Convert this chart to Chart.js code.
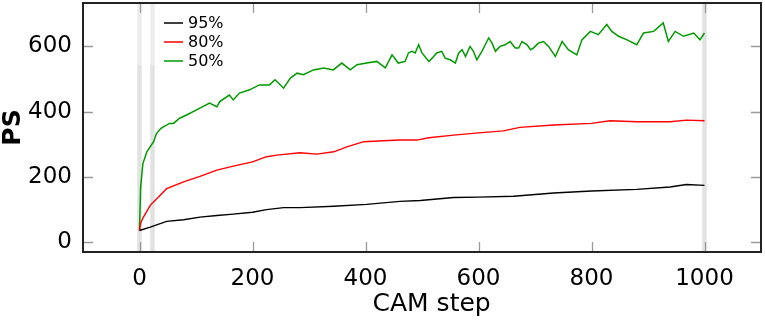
<!DOCTYPE html>
<html>
<head>
<meta charset="utf-8">
<script src="https://cdn.jsdelivr.net/npm/chart.js@4.4.1/dist/chart.umd.min.js"></script>
<style>
  html, body { margin: 0; padding: 0; background: #fff; }
  #wrap { width: 765px; height: 325px; }
</style>
</head>
<body>
<div id="wrap"><canvas id="chart"></canvas></div>
<script>
// values
const seriesLabels = ['95%', '80%', '50%'];
const xTitle = 'CAM step';
const yTitle = 'PS';

const blackSteps = [0, 19, 48, 78, 107, 137, 166, 200, 225, 255, 284, 344, 402, 461, 497, 556, 600, 662, 733, 800, 880, 939, 968, 1000];
const blackPS = [36, 46, 64, 69, 77, 82, 86, 92, 100, 106, 106, 110, 116, 125, 128, 137, 138, 141, 151, 157, 162, 169, 177, 174];

const redSteps = [0, 2, 7, 19, 48, 78, 107, 137, 166, 200, 225, 243, 284, 314, 344, 367, 397, 432, 461, 491, 512, 556, 600, 644, 673, 733, 800, 833, 880, 939, 968, 1000];
const redPS = [36, 58, 77, 113, 164, 185, 202, 221, 233, 246, 262, 267, 274, 270, 277, 292, 308, 311, 313, 313, 320, 328, 335, 341, 352, 359, 364, 372, 369, 369, 374, 372];

const greenSteps = [0, 2, 6, 13, 25, 30, 38, 53, 60, 71, 86, 106, 124, 137, 142, 159, 166, 177, 195, 212, 230, 240, 255, 267, 279, 290, 308, 326, 343, 358, 373, 385, 402, 420, 435, 447, 458, 470, 476, 482, 488, 494, 500, 512, 518, 526, 535, 541, 550, 559, 565, 571, 577, 585, 591, 597, 606, 612, 618, 624, 630, 638, 647, 656, 665, 671, 677, 686, 692, 697, 706, 715, 724, 736, 748, 759, 774, 783, 798, 812, 827, 836, 848, 863, 880, 892, 910, 927, 936, 948, 963, 981, 992, 1000];
const greenPS = [36, 169, 241, 277, 308, 333, 349, 364, 364, 380, 392, 410, 426, 415, 431, 451, 436, 457, 467, 482, 482, 498, 472, 503, 518, 513, 528, 534, 528, 549, 528, 544, 549, 554, 534, 574, 549, 554, 580, 585, 580, 605, 580, 554, 564, 580, 585, 564, 559, 549, 580, 590, 569, 600, 585, 559, 585, 605, 626, 610, 585, 600, 605, 615, 595, 595, 615, 605, 590, 595, 610, 615, 600, 569, 615, 590, 574, 620, 646, 636, 667, 646, 631, 620, 605, 641, 646, 672, 615, 646, 631, 641, 620, 641];

const xTicks = [0, 200, 400, 600, 800, 1000];
const yTicks = [0, 200, 400, 600];

// gray vertical markers (CAM step positions)
const bandSteps = [0, 23, 1000];

const FONT = "'DejaVu Sans', Verdana, sans-serif";

function toPoints(xs, ys) {
    return xs.map((x, i) => ({ x: x, y: ys[i] }));
}

// gray bands behind the curves
const bandPlugin = {
    id: 'bands',
    beforeDatasetsDraw(chart) {
        const ctx = chart.ctx;
        const area = chart.chartArea;
        const xs = chart.scales.x;
        ctx.save();
        ctx.fillStyle = '#e2e2e2';
        bandSteps.forEach(s => {
            const l = xs.getPixelForValue(s - 4);
            const r = xs.getPixelForValue(s + 4);
            ctx.fillRect(l, area.top, r - l, area.bottom - area.top);
        });
        // translucent legend frame
        ctx.fillStyle = 'rgba(255,255,255,0.4)';
        ctx.fillRect(area.left, area.top, 150, 62);
        ctx.restore();
    }
};

// legend in the top-left corner of the plot
const legendPlugin = {
    id: 'cornerLegend',
    afterDatasetsDraw(chart) {
        const ctx = chart.ctx;
        const area = chart.chartArea;
        ctx.save();
        ctx.font = '16px ' + FONT;
        ctx.textBaseline = 'middle';
        chart.data.datasets.forEach((ds, i) => {
            const y = area.top + 20 + i * 19;
            ctx.strokeStyle = ds.borderColor;
            ctx.lineWidth = 1.5;
            ctx.beginPath();
            ctx.moveTo(area.left + 81, y);
            ctx.lineTo(area.left + 100, y);
            ctx.stroke();
            ctx.fillStyle = '#000';
            ctx.fillText(ds.label, area.left + 105, y + 1);
        });
        ctx.restore();
    }
};

// inward ticks on all four sides, the frame and the axis titles
const framePlugin = {
    id: 'frame',
    afterDraw(chart) {
        const ctx = chart.ctx;
        const a = chart.chartArea;
        const xs = chart.scales.x;
        const ys = chart.scales.y;
        const len = 10;
        ctx.save();
        ctx.strokeStyle = '#9a9a9a';
        ctx.lineWidth = 1.3;
        ctx.beginPath();
        xTicks.forEach(v => {
            const px = Math.round(xs.getPixelForValue(v)) + 0.5;
            ctx.moveTo(px, a.bottom); ctx.lineTo(px, a.bottom - len);
            ctx.moveTo(px, a.top); ctx.lineTo(px, a.top + len);
        });
        yTicks.forEach(v => {
            const py = Math.round(ys.getPixelForValue(v)) + 0.5;
            ctx.moveTo(a.left, py); ctx.lineTo(a.left + len, py);
            ctx.moveTo(a.right, py); ctx.lineTo(a.right - len, py);
        });
        ctx.stroke();
        ctx.strokeStyle = '#222';
        ctx.lineWidth = 2;
        ctx.strokeRect(a.left, a.top, a.right - a.left, a.bottom - a.top);

        ctx.fillStyle = '#000';
        ctx.textAlign = 'center';
        ctx.textBaseline = 'alphabetic';
        ctx.font = '25px ' + FONT;
        ctx.fillText(xTitle, xs.getPixelForValue(517), 311);

        ctx.translate(13, (a.top + a.bottom) / 2);
        ctx.rotate(-Math.PI / 2);
        ctx.textBaseline = 'middle';
        ctx.font = 'bold 25px ' + FONT;
        ctx.fillText(yTitle, 0, 0);
        ctx.restore();
    }
};

const chart = new Chart(document.getElementById('chart'), {
    type: 'line',
    data: {
        datasets: [
            { label: seriesLabels[0], data: toPoints(blackSteps, blackPS), borderColor: '#000000', borderWidth: 1.4 },
            { label: seriesLabels[1], data: toPoints(redSteps, redPS), borderColor: '#ff0000', borderWidth: 1.4 },
            { label: seriesLabels[2], data: toPoints(greenSteps, greenPS), borderColor: '#009900', borderWidth: 1.5 }
        ]
    },
    options: {
        responsive: true,
        maintainAspectRatio: false,
        animation: false,
        elements: {
            point: { radius: 0 },
            line: { tension: 0, fill: false }
        },
        layout: {
            padding: { top: 3, right: 4, left: 0, bottom: 0 }
        },
        plugins: {
            legend: { display: false },
            tooltip: { enabled: false }
        },
        scales: {
            x: {
                type: 'linear',
                min: -100,
                max: 1100,
                afterBuildTicks: (scale) => { scale.ticks = xTicks.map(v => ({ value: v })); },
                afterFit: (scale) => {
                    scale.height = 73;
                    scale.paddingLeft = 0;
                    scale.paddingRight = 0;
                },
                grid: { display: false },
                border: { display: false },
                ticks: {
                    color: '#000',
                    padding: 5,
                    maxRotation: 0,
                    callback: (v) => String(v),
                    font: { family: FONT, size: 23 }
                }
            },
            y: {
                type: 'linear',
                min: -30,
                max: 733,
                afterBuildTicks: (scale) => { scale.ticks = yTicks.map(v => ({ value: v })); },
                afterFit: (scale) => {
                    scale.width = 83;
                    scale.paddingTop = 0;
                    scale.paddingBottom = 0;
                },
                grid: { display: false },
                border: { display: false },
                ticks: {
                    color: '#000',
                    padding: 3,
                    callback: (v) => String(v),
                    font: { family: FONT, size: 23 }
                }
            }
        }
    },
    plugins: [bandPlugin, legendPlugin, framePlugin]
});
</script>
</body>
</html>
